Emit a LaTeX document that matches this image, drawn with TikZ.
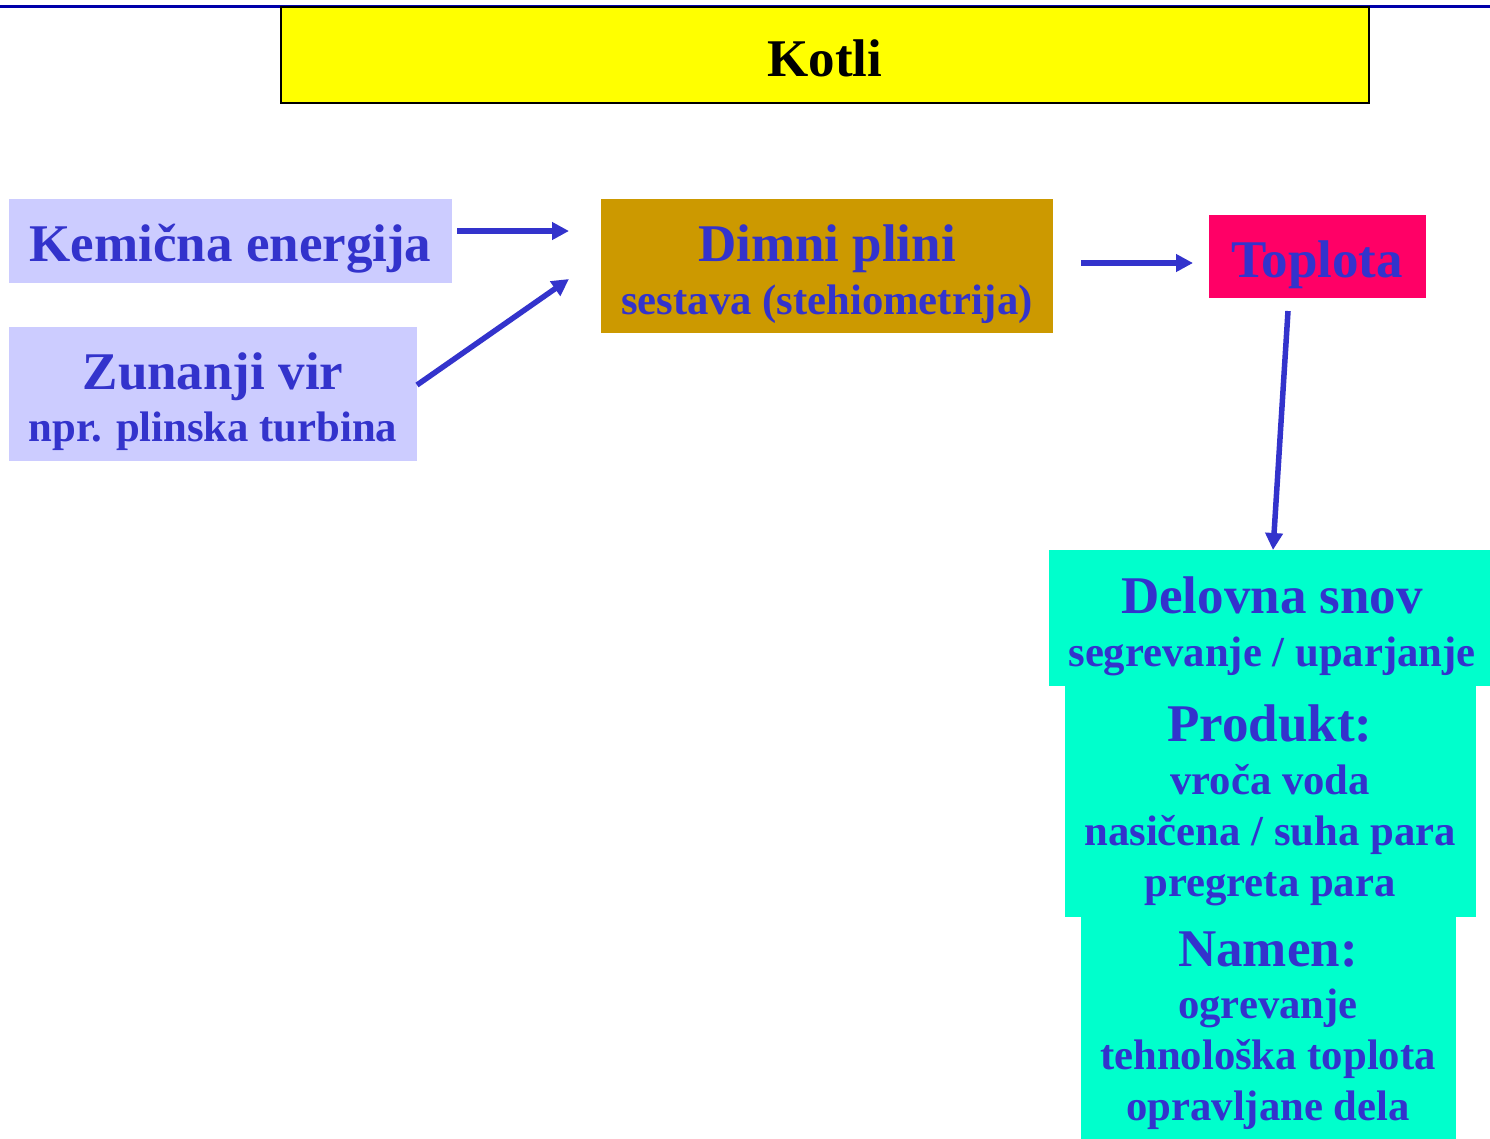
\documentclass[tikz,border=0pt]{standalone}
\usepackage{fontspec}
\setmainfont{Liberation Serif}
\usetikzlibrary{arrows.meta,calc}
\definecolor{tc}{HTML}{3333CC}
\definecolor{lav}{HTML}{CCCCFF}
\definecolor{gold}{HTML}{CC9900}
\definecolor{pink}{HTML}{FF0066}
\definecolor{aqua}{HTML}{00FFCC}
\definecolor{yel}{HTML}{FFFF00}
\definecolor{topline}{HTML}{0000AA}
\tikzset{
  box/.style={inner sep=0pt, outer sep=0pt, draw=none},
  bigtxt/.style={font=\fontsize{53}{60}\selectfont\bfseries, text=tc, anchor=base, inner sep=0pt},
  smalltxt/.style={font=\fontsize{42.7}{50}\selectfont\bfseries, text=tc, anchor=base, inner sep=0pt},
  conn/.style={draw=tc, line width=5.5pt, -{Triangle[length=17pt,width=17pt]}}
}
\begin{document}
\begin{tikzpicture}[x=1pt,y=-1pt]
\useasboundingbox (0,0) rectangle (1490,1138);
\fill[white] (0,0) rectangle (1490,1138);
% top line
\draw[topline, line width=3pt] (0,6) -- (1490,6);
% title
\node[box, fill=yel, draw=black, line width=2.5pt, minimum width=1088pt, minimum height=96pt] (title) at (825,55) {};
\node[bigtxt, text=black] (kotli) at (825,76) {Kotli};
% boxes
\node[box, fill=lav, minimum width=443pt, minimum height=84pt] (kem) at (230.5,241) {};
\node[bigtxt] (kemt) at (230.5,261) {Kemična energija};
\node[box, fill=lav, minimum width=408pt, minimum height=134pt] (zun) at (213,394) {};
\node[bigtxt] (zunt) at (213,389) {Zunanji vir};
\node[smalltxt] (zuns) at (213,441) {npr. plinska turbina};
\node[box, fill=gold, minimum width=452pt, minimum height=134pt] (dim) at (827,266) {};
\node[bigtxt] (dimt) at (827,261) {Dimni plini};
\node[smalltxt] (dims) at (827,314) {sestava (stehiometrija)};
\node[box, fill=pink, minimum width=217pt, minimum height=83pt] (top) at (1317.5,256.5) {};
\node[bigtxt] (topt) at (1317,277) {Toplota};
\node[box, fill=aqua, minimum width=441pt, minimum height=136pt] (del) at (1269.5,618) {};
\node[box, fill=aqua, minimum width=411pt, minimum height=231pt] (pro) at (1270.5,801) {};
\node[box, fill=aqua, minimum width=375pt, minimum height=223pt] (nam) at (1268.5,1027) {};
\node[bigtxt] (delt) at (1272,613) {Delovna snov};
\node[smalltxt] (dels) at (1272,666) {segrevanje / uparjanje};
\node[bigtxt] (prot) at (1270,741) {Produkt:};
\node[smalltxt] (pro1) at (1270,794) {vroča voda};
\node[smalltxt] (pro2) at (1270,845) {nasičena / suha para};
\node[smalltxt] (pro3) at (1270,896) {pregreta para};
\node[bigtxt] (namt) at (1268,966) {Namen:};
\node[smalltxt] (nam1) at (1268,1018) {ogrevanje};
\node[smalltxt] (nam2) at (1268,1069) {tehnološka toplota};
\node[smalltxt] (nam3) at (1268,1120) {opravljane dela};
% connectors
\draw[conn] ($(kem.east)+(5,-10)$) -- ($(dim.west)+(-32,-35)$);
\draw[conn] ($(zun.east)+(0,-9)$) -- ($(dim.west)+(-32,13)$);
\draw[conn] ($(dim.east)+(28,-3)$) -- ($(top.west)+(-16,6.5)$);
\draw[conn] ($(top.south)+(-29.5,13)$) -- ($(del.north)+(3.5,0)$);
\end{tikzpicture}
\end{document}
